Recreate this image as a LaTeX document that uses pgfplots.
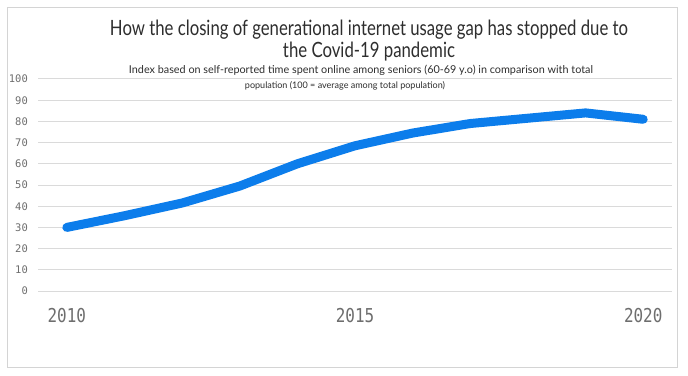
\documentclass[border=0pt]{standalone}
\usepackage{pgfplots}
\pgfplotsset{compat=1.18}
\usepackage{fontspec}
\setmainfont{Lato}
\newfontfamily\monofont{DejaVu Sans Mono}
\definecolor{lineblue}{HTML}{0C7DEB}
\definecolor{gridgray}{HTML}{DADADA}
\definecolor{framegray}{HTML}{D4D4D4}
\definecolor{tickgray}{HTML}{6E6E6E}
\definecolor{titlegray}{HTML}{2E2E2E}
\begin{document}
\begin{tikzpicture}[x=1bp,y=1bp]
\useasboundingbox (0,0) rectangle (688,375);
\fill[white] (0,0) rectangle (688,375);
\draw[framegray, line width=1bp] (7,8) rectangle (677,367);
\begin{axis}[
  at={(38bp,84bp)}, anchor=south west,
  scale only axis, width=634bp, height=212bp,
  xmin=2009.5, xmax=2020.5, ymin=0, ymax=100,
  axis line style={draw=none},
  tick style={draw=none},
  major tick length=0pt,
  clip=false,
  ymajorgrids,
  major grid style={gridgray, line width=1bp},
  ytick={0,10,...,100},
  yticklabels={0,10,20,30,40,50,60,70,80,90,100},
  xtick={2010,2015,2020},
  xticklabels={\scalebox{1}[1.2]{2010},\scalebox{1}[1.2]{2015},\scalebox{1}[1.2]{2020}},
  yticklabel style={font=\monofont\fontsize{10.5}{12}\selectfont, text=tickgray, anchor=east, inner sep=0pt, xshift=-10bp},
  xticklabel style={font=\monofont\fontsize{16}{18}\selectfont, text=tickgray, anchor=north, inner sep=0pt, yshift=-17bp},
]
\addplot[lineblue, line width=9bp, line cap=round, line join=round] coordinates {
  (2010,30) (2011,35.5) (2012,41.5) (2013,49.5) (2014,60) (2015,68.5)
  (2016,74.5) (2017,79) (2018,81.5) (2019,84) (2020,81)
};
\end{axis}
\node[anchor=base, inner sep=0pt, text=titlegray] at (369,340)
  {\resizebox{518bp}{15.5bp}{How the closing of generational internet usage gap has stopped due to}};
\node[anchor=base, inner sep=0pt, text=titlegray] at (369,318)
  {\resizebox{172bp}{15.5bp}{the Covid-19 pandemic}};
\node[anchor=base, inner sep=0pt, text=titlegray] at (361,302)
  {\resizebox{464bp}{!}{\fontsize{10}{12}\selectfont Index based on self-reported time spent online among seniors (60-69 y.o) in comparison with total}};
\node[anchor=base, inner sep=0pt, text=titlegray] at (345,287)
  {\resizebox{200bp}{!}{\fontsize{10}{12}\selectfont population (100 = average among total population)}};
\end{tikzpicture}
\end{document}
